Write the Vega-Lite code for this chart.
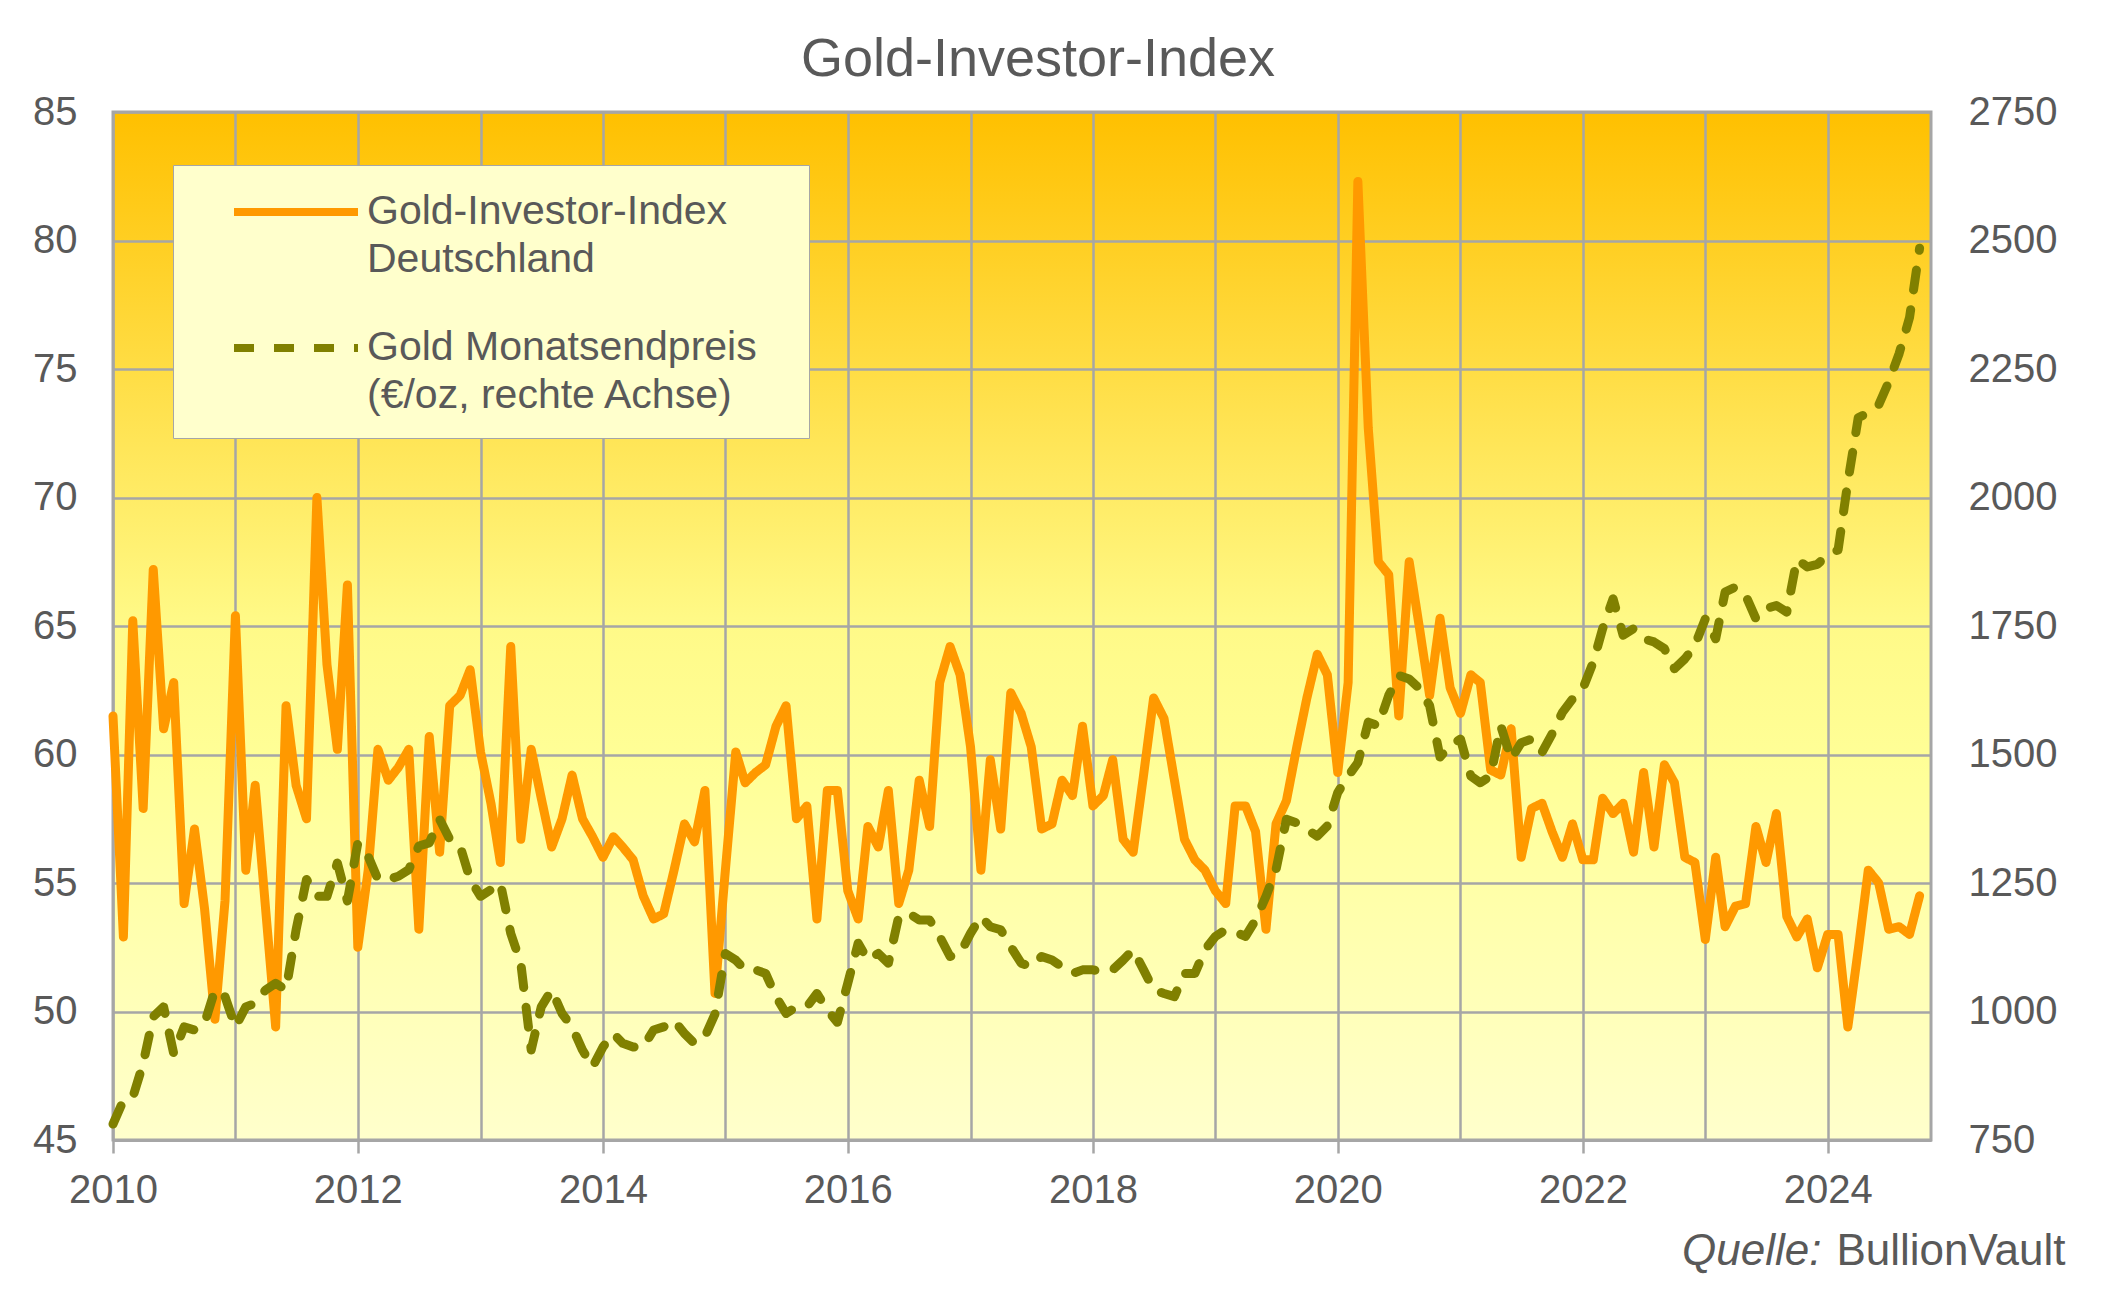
{
  "$schema": "https://vega.github.io/schema/vega-lite/v6.json",
  "width": 1818,
  "height": 1028,
  "autosize": {"type": "none"},
  "padding": {"left": 113, "top": 112, "right": 177, "bottom": 170},
  "background": "white",
  "title": {"text": "Gold-Investor-Index", "font": "Liberation Sans", "fontSize": 54, "fontWeight": "normal", "color": "#595959", "anchor": "middle", "frame": "group", "dx": 16, "dy": 52, "offset": 14, "baseline": "alphabetic"},
  "view": {"fill": {"gradient": "linear", "x1": 0, "y1": 0, "x2": 0, "y2": 1, "stops": [{"offset": 0, "color": "#FFC000"}, {"offset": 0.5, "color": "#FFFA88"}, {"offset": 0.65, "color": "#FFFF99"}, {"offset": 1, "color": "#FFFFCC"}]}, "stroke": "#A6A6A6", "strokeWidth": 3},
  "data": {"values": [
    {"date": "2010-01-01", "gii": 61.5, "gold": 781}, {"date": "2010-02-01", "gii": 52.9, "gold": 827}, {"date": "2010-03-01", "gii": 65.2, "gold": 833}, {"date": "2010-04-01", "gii": 57.9, "gold": 899}, {"date": "2010-05-01", "gii": 67.2, "gold": 990}, {"date": "2010-06-01", "gii": 61.0, "gold": 1009}, {"date": "2010-07-01", "gii": 62.8, "gold": 918}, {"date": "2010-08-01", "gii": 54.2, "gold": 970}, {"date": "2010-09-01", "gii": 57.1, "gold": 964}, {"date": "2010-10-01", "gii": 54.0, "gold": 977}, {"date": "2010-11-01", "gii": 49.7, "gold": 1042}, {"date": "2010-12-01", "gii": 54.3, "gold": 1029},
    {"date": "2011-01-01", "gii": 65.4, "gold": 970}, {"date": "2011-02-01", "gii": 55.5, "gold": 1009}, {"date": "2011-03-01", "gii": 58.8, "gold": 1016}, {"date": "2011-04-01", "gii": 54.0, "gold": 1042}, {"date": "2011-05-01", "gii": 49.4, "gold": 1055}, {"date": "2011-06-01", "gii": 61.9, "gold": 1042}, {"date": "2011-07-01", "gii": 58.8, "gold": 1159}, {"date": "2011-08-01", "gii": 57.5, "gold": 1257}, {"date": "2011-09-01", "gii": 70.0, "gold": 1224}, {"date": "2011-10-01", "gii": 63.5, "gold": 1224}, {"date": "2011-11-01", "gii": 60.2, "gold": 1289}, {"date": "2011-12-01", "gii": 66.6, "gold": 1215},
    {"date": "2012-01-01", "gii": 52.5, "gold": 1328}, {"date": "2012-02-01", "gii": 55.5, "gold": 1302}, {"date": "2012-03-01", "gii": 60.2, "gold": 1257}, {"date": "2012-04-01", "gii": 59.0, "gold": 1257}, {"date": "2012-05-01", "gii": 59.5, "gold": 1263}, {"date": "2012-06-01", "gii": 60.2, "gold": 1276}, {"date": "2012-07-01", "gii": 53.2, "gold": 1322}, {"date": "2012-08-01", "gii": 60.7, "gold": 1328}, {"date": "2012-09-01", "gii": 56.2, "gold": 1374}, {"date": "2012-10-01", "gii": 61.9, "gold": 1335}, {"date": "2012-11-01", "gii": 62.3, "gold": 1322}, {"date": "2012-12-01", "gii": 63.3, "gold": 1257},
    {"date": "2013-01-01", "gii": 60.1, "gold": 1224}, {"date": "2013-02-01", "gii": 58.1, "gold": 1237}, {"date": "2013-03-01", "gii": 55.8, "gold": 1250}, {"date": "2013-04-01", "gii": 64.2, "gold": 1152}, {"date": "2013-05-01", "gii": 56.7, "gold": 1094}, {"date": "2013-06-01", "gii": 60.2, "gold": 925}, {"date": "2013-07-01", "gii": 58.3, "gold": 1009}, {"date": "2013-08-01", "gii": 56.4, "gold": 1042}, {"date": "2013-09-01", "gii": 57.5, "gold": 996}, {"date": "2013-10-01", "gii": 59.2, "gold": 970}, {"date": "2013-11-01", "gii": 57.5, "gold": 925}, {"date": "2013-12-01", "gii": 56.8, "gold": 892},
    {"date": "2014-01-01", "gii": 56.0, "gold": 931}, {"date": "2014-02-01", "gii": 56.8, "gold": 957}, {"date": "2014-03-01", "gii": 56.4, "gold": 938}, {"date": "2014-04-01", "gii": 55.9, "gold": 931}, {"date": "2014-05-01", "gii": 54.5, "gold": 931}, {"date": "2014-06-01", "gii": 53.6, "gold": 964}, {"date": "2014-07-01", "gii": 53.8, "gold": 970}, {"date": "2014-08-01", "gii": 55.5, "gold": 983}, {"date": "2014-09-01", "gii": 57.3, "gold": 957}, {"date": "2014-10-01", "gii": 56.6, "gold": 938}, {"date": "2014-11-01", "gii": 58.6, "gold": 951}, {"date": "2014-12-01", "gii": 50.7, "gold": 995},
    {"date": "2015-01-01", "gii": 55.5, "gold": 1113}, {"date": "2015-02-01", "gii": 60.1, "gold": 1100}, {"date": "2015-03-01", "gii": 58.9, "gold": 1081}, {"date": "2015-04-01", "gii": 59.3, "gold": 1081}, {"date": "2015-05-01", "gii": 59.6, "gold": 1074}, {"date": "2015-06-01", "gii": 61.1, "gold": 1029}, {"date": "2015-07-01", "gii": 61.9, "gold": 996}, {"date": "2015-08-01", "gii": 57.5, "gold": 1009}, {"date": "2015-09-01", "gii": 58.0, "gold": 1009}, {"date": "2015-10-01", "gii": 53.6, "gold": 1035}, {"date": "2015-11-01", "gii": 58.6, "gold": 1003}, {"date": "2015-12-01", "gii": 58.6, "gold": 979},
    {"date": "2016-01-01", "gii": 54.7, "gold": 1055}, {"date": "2016-02-01", "gii": 53.6, "gold": 1133}, {"date": "2016-03-01", "gii": 57.2, "gold": 1100}, {"date": "2016-04-01", "gii": 56.4, "gold": 1113}, {"date": "2016-05-01", "gii": 58.6, "gold": 1094}, {"date": "2016-06-01", "gii": 54.2, "gold": 1185}, {"date": "2016-07-01", "gii": 55.5, "gold": 1191}, {"date": "2016-08-01", "gii": 59.0, "gold": 1178}, {"date": "2016-09-01", "gii": 57.2, "gold": 1178}, {"date": "2016-10-01", "gii": 62.8, "gold": 1146}, {"date": "2016-11-01", "gii": 64.2, "gold": 1107}, {"date": "2016-12-01", "gii": 63.1, "gold": 1113},
    {"date": "2017-01-01", "gii": 60.3, "gold": 1152}, {"date": "2017-02-01", "gii": 55.5, "gold": 1185}, {"date": "2017-03-01", "gii": 59.8, "gold": 1165}, {"date": "2017-04-01", "gii": 57.1, "gold": 1159}, {"date": "2017-05-01", "gii": 62.4, "gold": 1126}, {"date": "2017-06-01", "gii": 61.6, "gold": 1094}, {"date": "2017-07-01", "gii": 60.3, "gold": 1087}, {"date": "2017-08-01", "gii": 57.1, "gold": 1107}, {"date": "2017-09-01", "gii": 57.3, "gold": 1100}, {"date": "2017-10-01", "gii": 59.0, "gold": 1087}, {"date": "2017-11-01", "gii": 58.4, "gold": 1074}, {"date": "2017-12-01", "gii": 61.1, "gold": 1081},
    {"date": "2018-01-01", "gii": 58.0, "gold": 1081}, {"date": "2018-02-01", "gii": 58.4, "gold": 1077}, {"date": "2018-03-01", "gii": 59.8, "gold": 1081}, {"date": "2018-04-01", "gii": 56.7, "gold": 1100}, {"date": "2018-05-01", "gii": 56.2, "gold": 1120}, {"date": "2018-06-01", "gii": 59.2, "gold": 1081}, {"date": "2018-07-01", "gii": 62.2, "gold": 1042}, {"date": "2018-08-01", "gii": 61.4, "gold": 1035}, {"date": "2018-09-01", "gii": 59.0, "gold": 1029}, {"date": "2018-10-01", "gii": 56.7, "gold": 1074}, {"date": "2018-11-01", "gii": 55.9, "gold": 1074}, {"date": "2018-12-01", "gii": 55.5, "gold": 1120},
    {"date": "2019-01-01", "gii": 54.7, "gold": 1146}, {"date": "2019-02-01", "gii": 54.2, "gold": 1159}, {"date": "2019-03-01", "gii": 58.0, "gold": 1155}, {"date": "2019-04-01", "gii": 58.0, "gold": 1146}, {"date": "2019-05-01", "gii": 57.0, "gold": 1178}, {"date": "2019-06-01", "gii": 53.2, "gold": 1224}, {"date": "2019-07-01", "gii": 57.3, "gold": 1276}, {"date": "2019-08-01", "gii": 58.2, "gold": 1374}, {"date": "2019-09-01", "gii": 60.3, "gold": 1367}, {"date": "2019-10-01", "gii": 62.2, "gold": 1354}, {"date": "2019-11-01", "gii": 63.9, "gold": 1341}, {"date": "2019-12-01", "gii": 63.1, "gold": 1361},
    {"date": "2020-01-01", "gii": 59.3, "gold": 1426}, {"date": "2020-02-01", "gii": 62.8, "gold": 1458}, {"date": "2020-03-01", "gii": 82.3, "gold": 1484}, {"date": "2020-04-01", "gii": 72.7, "gold": 1563}, {"date": "2020-05-01", "gii": 67.5, "gold": 1556}, {"date": "2020-06-01", "gii": 67.0, "gold": 1615}, {"date": "2020-07-01", "gii": 61.5, "gold": 1654}, {"date": "2020-08-01", "gii": 67.5, "gold": 1647}, {"date": "2020-09-01", "gii": 64.9, "gold": 1628}, {"date": "2020-10-01", "gii": 62.3, "gold": 1595}, {"date": "2020-11-01", "gii": 65.3, "gold": 1495}, {"date": "2020-12-01", "gii": 62.6, "gold": 1517},
    {"date": "2021-01-01", "gii": 61.6, "gold": 1530}, {"date": "2021-02-01", "gii": 63.1, "gold": 1458}, {"date": "2021-03-01", "gii": 62.8, "gold": 1445}, {"date": "2021-04-01", "gii": 59.4, "gold": 1458}, {"date": "2021-05-01", "gii": 59.2, "gold": 1556}, {"date": "2021-06-01", "gii": 61.0, "gold": 1491}, {"date": "2021-07-01", "gii": 56.0, "gold": 1523}, {"date": "2021-08-01", "gii": 57.9, "gold": 1530}, {"date": "2021-09-01", "gii": 58.1, "gold": 1504}, {"date": "2021-10-01", "gii": 57.0, "gold": 1540}, {"date": "2021-11-01", "gii": 56.0, "gold": 1582}, {"date": "2021-12-01", "gii": 57.3, "gold": 1608},
    {"date": "2022-01-01", "gii": 55.9, "gold": 1628}, {"date": "2022-02-01", "gii": 55.9, "gold": 1680}, {"date": "2022-03-01", "gii": 58.3, "gold": 1745}, {"date": "2022-04-01", "gii": 57.7, "gold": 1803}, {"date": "2022-05-01", "gii": 58.1, "gold": 1732}, {"date": "2022-06-01", "gii": 56.2, "gold": 1745}, {"date": "2022-07-01", "gii": 59.3, "gold": 1725}, {"date": "2022-08-01", "gii": 56.4, "gold": 1719}, {"date": "2022-09-01", "gii": 59.6, "gold": 1706}, {"date": "2022-10-01", "gii": 58.9, "gold": 1667}, {"date": "2022-11-01", "gii": 56.0, "gold": 1686}, {"date": "2022-12-01", "gii": 55.8, "gold": 1712},
    {"date": "2023-01-01", "gii": 52.8, "gold": 1764}, {"date": "2023-02-01", "gii": 56.0, "gold": 1725}, {"date": "2023-03-01", "gii": 53.3, "gold": 1816}, {"date": "2023-04-01", "gii": 54.1, "gold": 1826}, {"date": "2023-05-01", "gii": 54.2, "gold": 1810}, {"date": "2023-06-01", "gii": 57.2, "gold": 1764}, {"date": "2023-07-01", "gii": 55.8, "gold": 1784}, {"date": "2023-08-01", "gii": 57.7, "gold": 1790}, {"date": "2023-09-01", "gii": 53.7, "gold": 1777}, {"date": "2023-10-01", "gii": 52.9, "gold": 1880}, {"date": "2023-11-01", "gii": 53.6, "gold": 1865}, {"date": "2023-12-01", "gii": 51.7, "gold": 1870},
    {"date": "2024-01-01", "gii": 53.0, "gold": 1888}, {"date": "2024-02-01", "gii": 53.0, "gold": 1898}, {"date": "2024-03-01", "gii": 49.4, "gold": 2030}, {"date": "2024-04-01", "gii": 52.4, "gold": 2155}, {"date": "2024-05-01", "gii": 55.5, "gold": 2165}, {"date": "2024-06-01", "gii": 55.0, "gold": 2180}, {"date": "2024-07-01", "gii": 53.2, "gold": 2225}, {"date": "2024-08-01", "gii": 53.3, "gold": 2280}, {"date": "2024-09-01", "gii": 53.0, "gold": 2350}, {"date": "2024-10-01", "gii": 54.5, "gold": 2485}
  ]},
  "encoding": {
    "x": {
      "field": "date", "type": "temporal",
      "scale": {"type": "utc", "domain": [{"year": 2010, "month": 1, "date": 1, "utc": true}, {"year": 2024, "month": 11, "date": 4, "utc": true}]},
      "axis": {
        "values": [
          {"year": 2010, "month": 1, "date": 1, "utc": true}, {"year": 2011, "month": 1, "date": 1, "utc": true}, {"year": 2012, "month": 1, "date": 1, "utc": true}, {"year": 2013, "month": 1, "date": 1, "utc": true}, {"year": 2014, "month": 1, "date": 1, "utc": true}, {"year": 2015, "month": 1, "date": 1, "utc": true}, {"year": 2016, "month": 1, "date": 1, "utc": true}, {"year": 2017, "month": 1, "date": 1, "utc": true}, {"year": 2018, "month": 1, "date": 1, "utc": true}, {"year": 2019, "month": 1, "date": 1, "utc": true}, {"year": 2020, "month": 1, "date": 1, "utc": true}, {"year": 2021, "month": 1, "date": 1, "utc": true}, {"year": 2022, "month": 1, "date": 1, "utc": true}, {"year": 2023, "month": 1, "date": 1, "utc": true}, {"year": 2024, "month": 1, "date": 1, "utc": true}
        ],
        "labelExpr": "utcyear(datum.value) % 2 == 0 ? '' + utcyear(datum.value) : ''",
        "labelFlush": false,
        "labelOverlap": false,
        "labelFont": "Liberation Sans",
        "labelFontSize": 40,
        "labelColor": "#595959",
        "labelPadding": 17,
        "grid": true,
        "gridColor": "#A6A6A6",
        "gridWidth": 2.5,
        "ticks": true,
        "tickSize": 13,
        "tickWidth": 2.5,
        "tickColor": "#A6A6A6",
        "tickOpacity": {"condition": {"test": "utcyear(datum.value) % 2 == 1", "value": 0}, "value": 1},
        "domain": true,
        "domainColor": "#A6A6A6",
        "domainWidth": 3,
        "title": "BullionVault",
        "titleX": 1952,
        "titleY": 124,
        "titleAlign": "right",
        "titleBaseline": "alphabetic",
        "titleFont": "Liberation Sans",
        "titleFontSize": 44,
        "titleFontWeight": "normal",
        "titleColor": "#595959"
      }
    }
  },
  "layer": [
    {
      "mark": {"type": "line", "strokeWidth": 9, "strokeCap": "round", "strokeJoin": "round"},
      "encoding": {
        "y": {
          "field": "gii", "type": "quantitative",
          "scale": {"domain": [45, 85], "nice": false, "zero": false},
          "axis": {
            "values": [45, 50, 55, 60, 65, 70, 75, 80, 85],
            "labelFont": "Liberation Sans", "labelFontSize": 40, "labelColor": "#595959", "labelPadding": 36,
            "grid": true, "gridColor": "#A6A6A6", "gridWidth": 2.5,
            "ticks": false, "tickSize": 0, "domain": false,
            "title": "Quelle:", "titleAngle": 0, "titleX": 1708, "titleY": 1152, "titleAlign": "right", "titleBaseline": "alphabetic",
            "titleFont": "Liberation Sans", "titleFontSize": 44, "titleFontWeight": "normal", "titleFontStyle": "italic", "titleColor": "#595959"
          }
        },
        "color": {
          "datum": "Gold-Investor-Index|Deutschland", "type": "nominal",
          "scale": {"domain": ["Gold-Investor-Index|Deutschland", "Gold Monatsendpreis\u2800|(€/oz, rechte Achse)"], "range": ["#FF9900", "#808000"]},
          "legend": {"orient": "none", "legendX": 60, "legendY": 53, "title": null, "labelExpr": "split(datum.label, '|')", "labelFont": "Liberation Sans", "labelFontSize": 41, "labelColor": "#595959", "labelLimit": 900, "labelBaseline": "middle", "labelOffset": 46, "symbolType": "M-3,0L3,0", "symbolSize": 1708, "symbolStrokeWidth": 8, "symbolOffset": 76, "padding": 22, "rowPadding": 43, "fillColor": "#FFFFCC", "strokeColor": "#A6A6A6"}
        },
        "strokeDash": {
          "datum": "Gold-Investor-Index|Deutschland", "type": "nominal",
          "scale": {"domain": ["Gold-Investor-Index|Deutschland", "Gold Monatsendpreis\u2800|(€/oz, rechte Achse)"], "range": [[1, 0], [20, 20]]},
          "legend": {"orient": "none", "legendX": 60, "legendY": 53, "title": null, "labelExpr": "split(datum.label, '|')", "labelFont": "Liberation Sans", "labelFontSize": 41, "labelColor": "#595959", "labelLimit": 900, "labelBaseline": "middle", "labelOffset": 46, "symbolType": "M-3,0L3,0", "symbolSize": 1708, "symbolStrokeWidth": 8, "symbolOffset": 76, "padding": 22, "rowPadding": 43, "fillColor": "#FFFFCC", "strokeColor": "#A6A6A6"}
        }
      }
    },
    {
      "mark": {"type": "line", "strokeWidth": 9, "strokeCap": "round", "strokeJoin": "round"},
      "encoding": {
        "y": {
          "field": "gold", "type": "quantitative",
          "scale": {"domain": [750, 2750], "nice": false, "zero": false},
          "axis": {
            "orient": "right",
            "values": [750, 1000, 1250, 1500, 1750, 2000, 2250, 2500, 2750],
            "format": "d",
            "labelFont": "Liberation Sans", "labelFontSize": 40, "labelColor": "#595959", "labelPadding": 37,
            "grid": false, "ticks": false, "tickSize": 0, "domain": false, "title": null
          }
        },
        "color": {"datum": "Gold Monatsendpreis\u2800|(€/oz, rechte Achse)", "type": "nominal"},
        "strokeDash": {"datum": "Gold Monatsendpreis\u2800|(€/oz, rechte Achse)", "type": "nominal"}
      }
    }
  ],
  "resolve": {"scale": {"y": "independent"}},
  "config": {
    "font": "Liberation Sans",
    "style": {"guide-label": {"lineHeight": 48}}
  }
}
